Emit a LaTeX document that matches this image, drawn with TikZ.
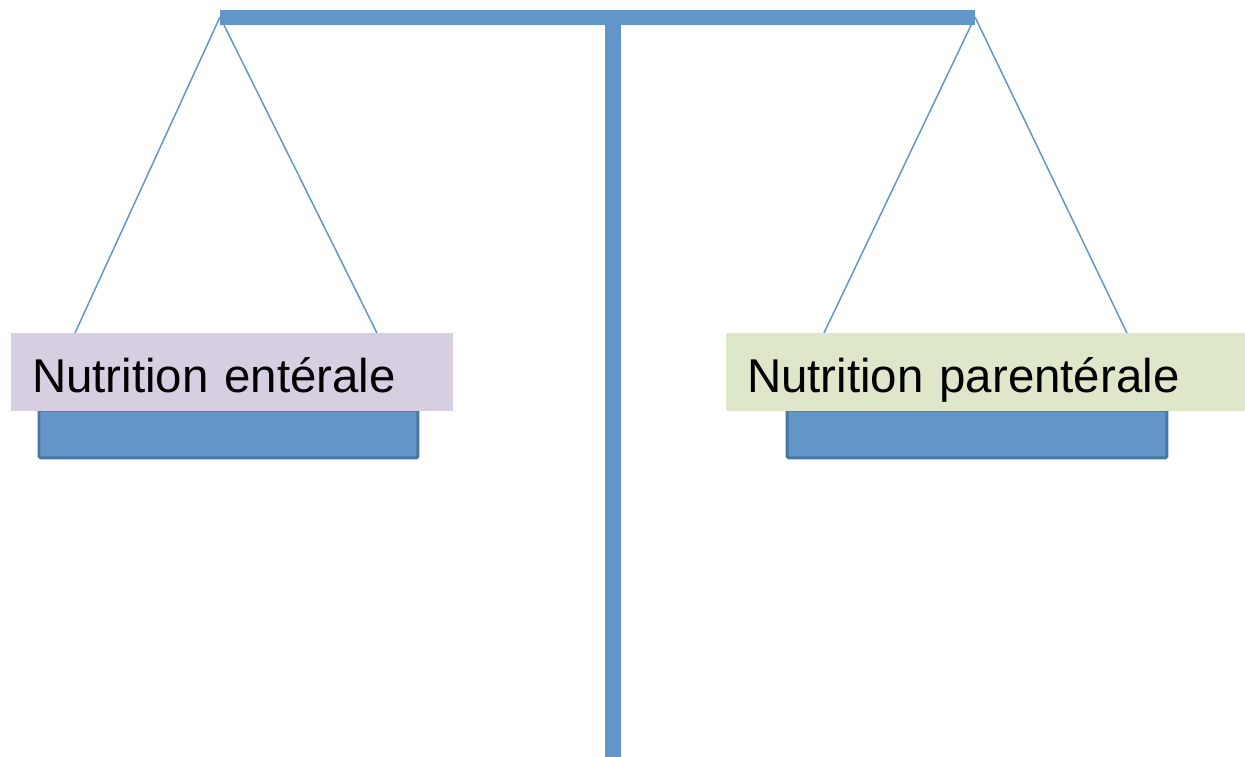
\documentclass[tikz,border=0pt]{standalone}
\usepackage{fontspec}
\setmainfont{Liberation Sans}
\definecolor{beam}{RGB}{98,150,201}
\definecolor{panedge}{RGB}{74,117,160}
\definecolor{lavender}{RGB}{215,206,226}
\definecolor{sage}{RGB}{222,231,202}
\begin{document}
\begin{tikzpicture}[x=0.02cm,y=-0.02cm,
  beambox/.style={fill=beam,draw=none,inner sep=0pt,anchor=north west},
  pan/.style={fill=beam,draw=panedge,line width=0.06cm,rounded corners=1pt,inner sep=0pt,anchor=north west},
  tag/.style={draw=none,inner xsep=0.414cm,inner ysep=0pt,anchor=north west,
    text height=1.18cm,text depth=0.37cm,align=left,
    font=\fontsize{27}{32}\selectfont},
  cord/.style={draw=beam,line width=0.85pt}]
\useasboundingbox (0,0) rectangle (1245,757);
% beam and post
\node[beambox,minimum width=15.1cm,minimum height=0.3cm] (bar) at (220,10) {};
\node[beambox,minimum width=0.32cm,minimum height=14.64cm] (post) at (605,25) {};
% pans
\node[pan,minimum width=7.58cm,minimum height=0.96cm] (panL) at (37.5,408.5) {};
\node[pan,minimum width=7.6cm,minimum height=0.96cm] (panR) at (785.5,408.5) {};
% labels
\node[tag,fill=lavender,text width=8.012cm] (labL) at (11,333) {Nutrition entérale};
\node[tag,fill=sage,text width=9.552cm] (labR) at (726,333) {Nutrition parentérale};
% suspension points
\coordinate (apexL) at (220,17);
\coordinate (apexR) at (975,17);
\draw[cord] (apexL) -- ([xshift=1.28cm]labL.north west);
\draw[cord] (apexL) -- ([xshift=7.32cm]labL.north west);
\draw[cord] (apexR) -- ([xshift=1.96cm]labR.north west);
\draw[cord] (apexR) -- ([xshift=8.02cm]labR.north west);
\end{tikzpicture}
\end{document}
